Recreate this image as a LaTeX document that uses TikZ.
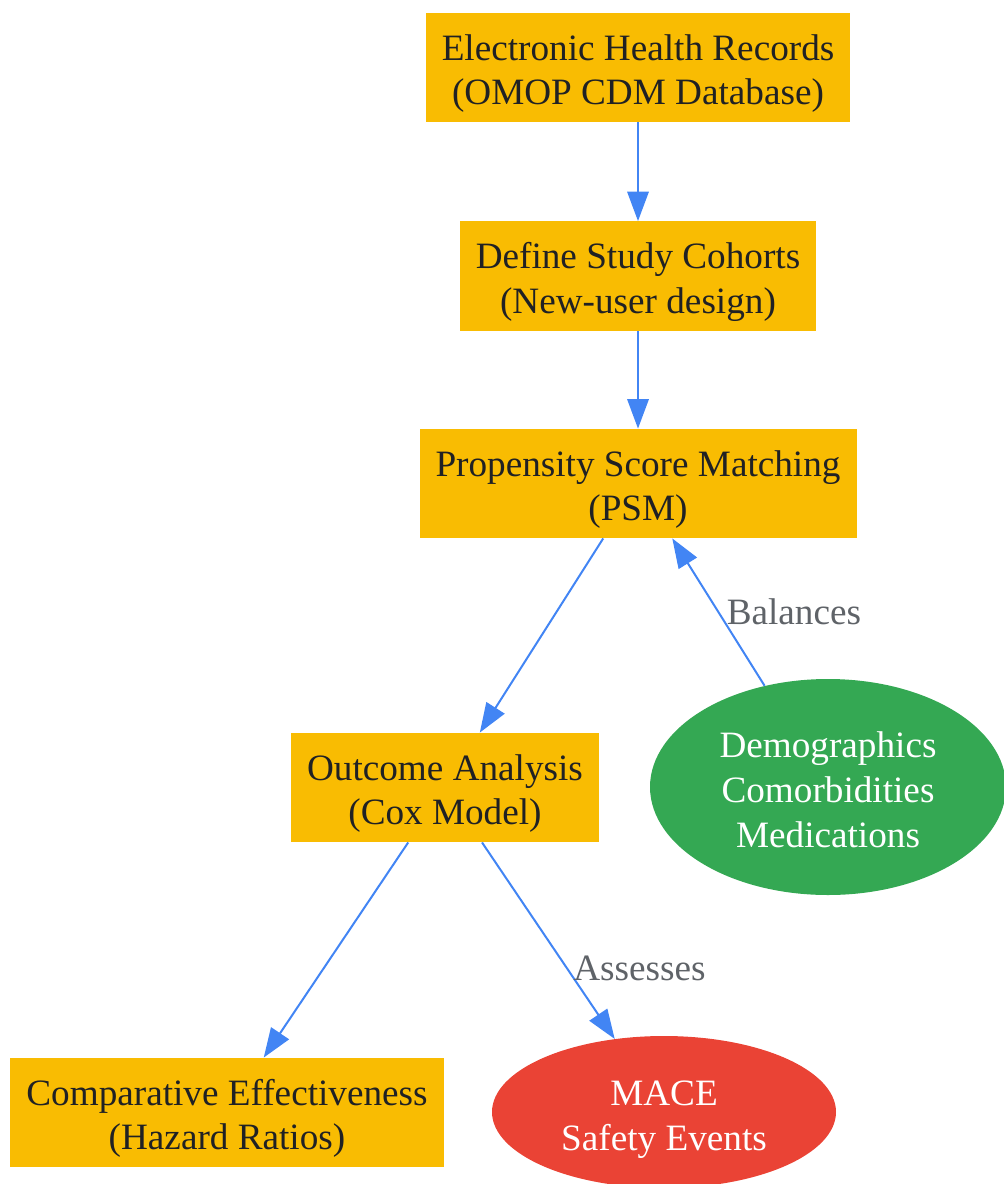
\documentclass[tikz,border=0pt]{standalone}
\usepackage{fontspec}
\setmainfont{Liberation Serif}
\usetikzlibrary{arrows.meta, shapes.geometric}
\definecolor{boxyellow}{RGB}{249,188,2}
\definecolor{ovalgreen}{RGB}{52,168,83}
\definecolor{ovalred}{RGB}{234,67,53}
\definecolor{arrowblue}{RGB}{66,133,244}
\definecolor{txtdark}{RGB}{32,33,36}
\definecolor{lblgray}{RGB}{95,99,104}

\begin{document}
\begin{tikzpicture}[x=0.75pt,y=0.75pt,yscale=-1,xscale=1,
  every node/.style={font=\fontsize{27.9pt}{33.5pt}\selectfont},
  stagebox/.style={fill=boxyellow, text=txtdark, align=center, inner xsep=12pt, text height=62pt, minimum height=82pt},
  oval/.style={ellipse, text=white, align=center, inner sep=0pt},
  flow/.style={draw=arrowblue, line width=1.5pt, -{Triangle[length=22pt, width=16pt]}},
  edgelabel/.style={text=lblgray, anchor=west, inner sep=0pt}]
\useasboundingbox (0,0) rectangle (1003,1184);

% Box Nodes
\node [stagebox] (ehr) at (638,67.5) {Electronic Health Records\\(OMOP CDM Database)};
\node [stagebox] (cohorts) at (638,276) {Define Study Cohorts\\(New-user design)};
\node [stagebox] (psm) at (638,483.5) {Propensity Score Matching\\(PSM)};
\node [stagebox] (outcome) at (445,787.5) {Outcome Analysis\\(Cox Model)};
\node [stagebox] (hr) at (227,1112.5) {Comparative Effectiveness\\(Hazard Ratios)};

% Ellipse Nodes
\node [oval, fill=ovalgreen, text height=90.3pt, minimum width=267pt, minimum height=162pt] (covars) at (828,787) {Demographics\\Comorbidities\\Medications};
\node [oval, fill=ovalred, text height=63.5pt, minimum width=258pt, minimum height=114pt] (mace) at (664,1112) {MACE\\Safety Events};

% Straight Lines
\draw [flow] (ehr) -- (cohorts);
\draw [flow] (cohorts) -- (psm);
\draw [flow] (psm) -- (outcome);
\draw [flow] (covars) -- (psm) node [edgelabel, pos=0.5, xshift=5.5pt] (balances) {Balances};
\draw [flow] (outcome) -- (hr);
\draw [flow] (outcome) -- (mace) node [edgelabel, pos=0.64, xshift=4pt] (assesses) {Assesses};

\end{tikzpicture}
\end{document}
